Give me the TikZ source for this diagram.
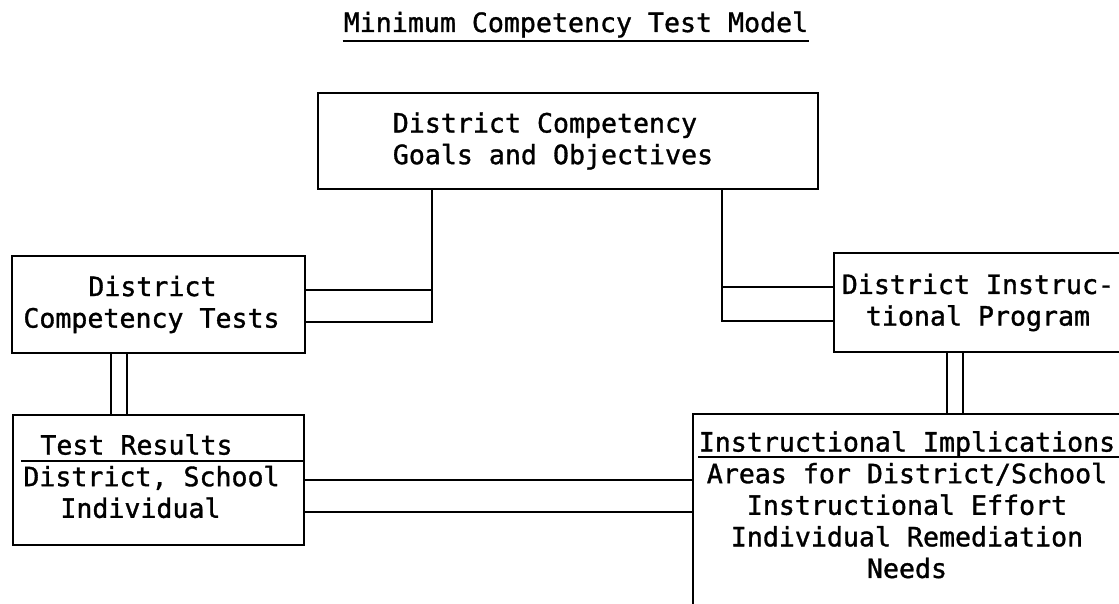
\documentclass[tikz,border=0pt]{standalone}
\usepackage{fontspec}
\usepackage{tikz}
\newfontfamily\typewr[FakeBold=1.2]{DejaVu Sans Mono}

\begin{document}
\begin{tikzpicture}
	[x=0.5pt,y=-0.5pt,line width=1.2pt,
	every node/.style={font=\typewr\fontsize{13.3}{15.8}\selectfont},
	box/.style={draw,rectangle,align=center,inner sep=0pt}]
	\useasboundingbox (0,0) rectangle (1119,604);
	\clip (0,0) rectangle (1119,604);

	\node[anchor=base,inner xsep=0pt,inner ysep=1pt] (title) at (576,32) {Minimum Competency Test Model};
	\draw[line width=1pt] (title.south west) -- (title.south east);

	\node[box,minimum width=250pt,minimum height=48pt,align=left] (goals) at (568,141) {District Competency\\Goals and Objectives\hspace*{15pt}\mbox{}};
	\node[box,minimum width=146.5pt,minimum height=48.5pt,align=left] (tests) at (158.5,304.5) {\hspace*{32.5pt}District\\Competency Tests\hspace*{7pt}\rule[-2pt]{0pt}{0pt}};
	\node[box,minimum width=144pt,minimum height=49.5pt] (instr) at (978,302.5) {District Instruc-\\tional Program};
	\node[box,minimum width=145.5pt,minimum height=65pt,align=left] (results) at (158.5,480) {\hspace*{8.5pt}Test Results\\District, School\hspace*{7pt}\mbox{}\\\hspace*{18.5pt}Individual\rule[-4pt]{0pt}{0pt}};
	\node[box,anchor=north west,minimum width=215pt,minimum height=110pt] (imp) at (692,413) {};
	\node[anchor=north,align=center,inner sep=0pt] (implabel) at (907,430) {Instructional Implications\\Areas for District/School\\Instructional Effort\\Individual Remediation\\Needs};

	\draw (results.west |- 0,461) ++(9,0) -- (results.east |- 0,461);
	\draw (imp.west |- 0,457) ++(6,0) -- (imp.east |- 0,457);

	\coordinate (lj) at (432,322);
	\coordinate (rj) at (722,321);
	\draw (goals.south -| lj) -- (lj) -- (tests.east |- lj);
	\draw (tests.east |- 0,290) -- (lj |- 0,290);
	\draw (goals.south -| rj) -- (rj) -- (instr.west |- rj);
	\draw (instr.west |- 0,287) -- (rj |- 0,287);

	\foreach \x in {111,127}
	\draw (tests.south -| \x,0) -- (results.north -| \x,0);
	\foreach \x in {947,963}
	\draw (instr.south -| \x,0) -- (imp.north -| \x,0);
	\foreach \y in {480,512}
	\draw (results.east |- 0,\y) -- (imp.west |- 0,\y);

\end{tikzpicture}
\end{document}
